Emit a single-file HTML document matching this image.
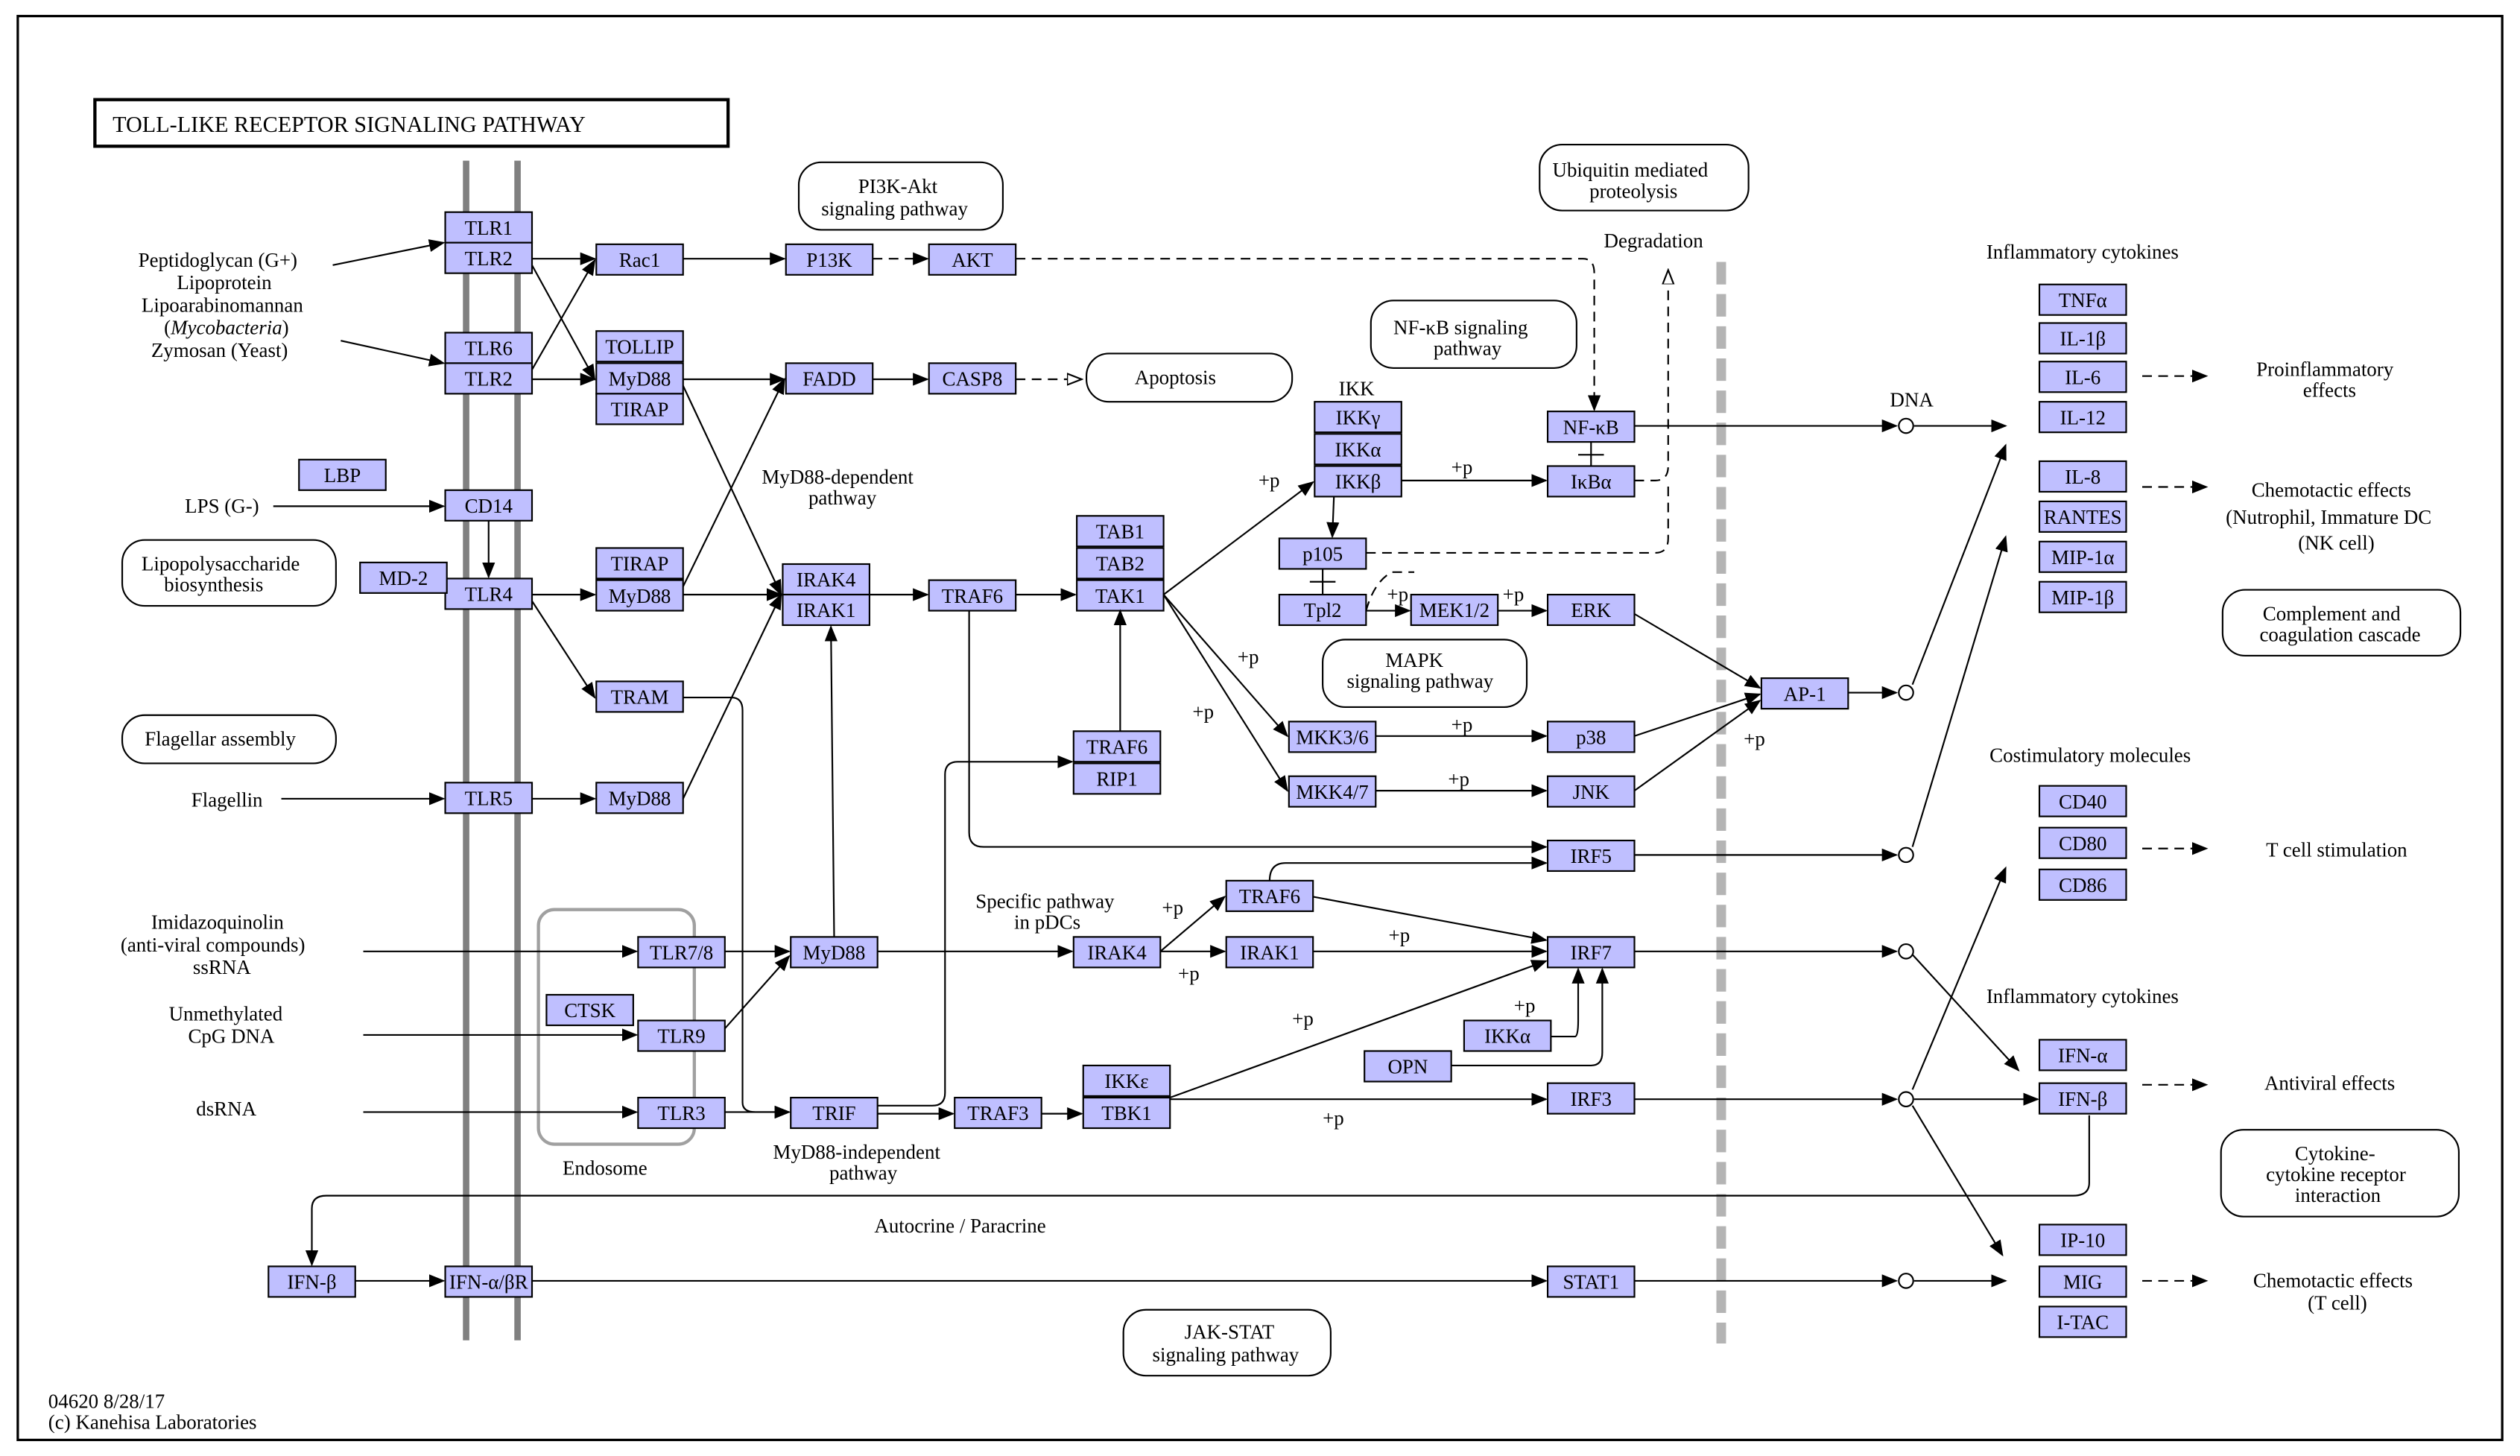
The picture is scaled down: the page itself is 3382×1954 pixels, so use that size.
<!DOCTYPE html>
<html><head><meta charset="utf-8"><style>
html,body{margin:0;padding:0;background:#fff}
svg{display:block}
text{font-family:"Liberation Serif",serif;font-size:12.5px;fill:#000}
.b rect{fill:#bfbfff;stroke:#000;stroke-width:1}
.l{fill:none;stroke:#000;stroke-width:1}
.d{fill:none;stroke:#000;stroke-width:1;stroke-dasharray:6,4}
.r{fill:#fff;stroke:#000;stroke-width:1}
</style></head><body>
<svg width="3382" height="1954" viewBox="0 0 1568 906" xmlns="http://www.w3.org/2000/svg">
<defs>
<marker id="a" markerWidth="10" markerHeight="10" refX="9" refY="5" orient="auto" markerUnits="userSpaceOnUse"><path d="M0,1 L10,5 L0,9z" fill="#000"/></marker>
<marker id="o" markerWidth="10" markerHeight="10" refX="9" refY="5" orient="auto" markerUnits="userSpaceOnUse"><path d="M0,1.5 L9,5 L0,8.5z" fill="#fff" stroke="#000"/></marker>
</defs>
<rect x="11" y="10" width="1546" height="886" fill="none" stroke="#000" stroke-width="1.5"/>
<rect x="59" y="62" width="394" height="29" fill="#fff" stroke="#000" stroke-width="2"/>
<text x="70" y="82" style="font-size:14px">TOLL-LIKE RECEPTOR SIGNALING PATHWAY</text>
<line x1="290" y1="100" x2="290" y2="834" stroke="#808080" stroke-width="4"/>
<line x1="322" y1="100" x2="322" y2="834" stroke="#808080" stroke-width="4"/>
<line x1="1071" y1="163" x2="1071" y2="836" stroke="#b4b4b4" stroke-width="6" stroke-dasharray="14,6"/>
<rect x="335" y="566" width="97" height="146" rx="10" fill="none" stroke="#a0a0a0" stroke-width="2"/>
<text x="350" y="731">Endosome</text>

<!-- rounded pathway boxes -->
<g>
<rect class="r" x="497" y="101" width="127" height="42" rx="14"/><text x="534" y="120">PI3K-Akt</text><text x="511" y="134">signaling pathway</text>
<rect class="r" x="676" y="220" width="128" height="30" rx="14"/><text x="706" y="239">Apoptosis</text>
<rect class="r" x="958" y="90" width="130" height="41" rx="14"/><text x="966" y="110">Ubiquitin mediated</text><text x="989" y="123">proteolysis</text>
<rect class="r" x="853" y="187" width="128" height="42" rx="14"/><text x="867" y="208">NF-κB signaling</text><text x="892" y="221">pathway</text>
<rect class="r" x="823" y="398" width="127" height="42" rx="14"/><text x="862" y="415">MAPK</text><text x="838" y="428">signaling pathway</text>
<rect class="r" x="76" y="336" width="133" height="41" rx="14"/><text x="88" y="355">Lipopolysaccharide</text><text x="102" y="368">biosynthesis</text>
<rect class="r" x="76" y="445" width="133" height="30" rx="14"/><text x="90" y="464">Flagellar assembly</text>
<rect class="r" x="1383" y="367" width="148" height="41" rx="14"/><text x="1408" y="386">Complement and</text><text x="1406" y="399">coagulation cascade</text>
<rect class="r" x="1382" y="703" width="148" height="54" rx="14"/><text x="1428" y="722">Cytokine-</text><text x="1410" y="735">cytokine receptor</text><text x="1428" y="748">interaction</text>
<rect class="r" x="699" y="815" width="129" height="41" rx="14"/><text x="737" y="833">JAK-STAT</text><text x="717" y="847">signaling pathway</text>
</g>

<!-- labels -->
<text x="86" y="166">Peptidoglycan (G+)</text>
<text x="110" y="180">Lipoprotein</text>
<text x="88" y="194">Lipoarabinomannan</text>
<text x="102" y="208">(<tspan font-style="italic">Mycobacteria</tspan>)</text>
<text x="94" y="222">Zymosan (Yeast)</text>
<text x="115" y="319">LPS (G-)</text>
<text x="119" y="502">Flagellin</text>
<text x="94" y="578">Imidazoquinolin</text>
<text x="75" y="592">(anti-viral compounds)</text>
<text x="120" y="606">ssRNA</text>
<text x="105" y="635">Unmethylated</text>
<text x="117" y="649">CpG DNA</text>
<text x="122" y="694">dsRNA</text>
<text x="474" y="301">MyD88-dependent</text><text x="503" y="314">pathway</text>
<text x="481" y="721">MyD88-independent</text><text x="516" y="734">pathway</text>
<text x="607" y="565">Specific pathway</text><text x="631" y="578">in pDCs</text>
<text x="544" y="767">Autocrine / Paracrine</text>
<text x="833" y="246">IKK</text>
<text x="998" y="154">Degradation</text>
<text x="1176" y="253">DNA</text>
<text x="1236" y="161">Inflammatory cytokines</text>
<text x="1238" y="474">Costimulatory molecules</text>
<text x="1236" y="624">Inflammatory cytokines</text>
<text x="1404" y="234">Proinflammatory</text><text x="1433" y="247">effects</text>
<text x="1401" y="309">Chemotactic effects</text><text x="1385" y="326">(Nutrophil, Immature DC</text><text x="1430" y="342">(NK cell)</text>
<text x="1410" y="533">T cell stimulation</text>
<text x="1409" y="678">Antiviral effects</text>
<text x="1402" y="801">Chemotactic effects</text><text x="1436" y="815">(T cell)</text>
<text x="30" y="876">04620 8/28/17</text><text x="30" y="889">(c) Kanehisa Laboratories</text>
<g>
<text x="783" y="303">+p</text><text x="903" y="295">+p</text><text x="770" y="413">+p</text><text x="742" y="447">+p</text>
<text x="903" y="455">+p</text><text x="901" y="489">+p</text><text x="1085" y="464">+p</text><text x="863" y="374">+p</text><text x="935" y="374">+p</text>
<text x="723" y="569">+p</text><text x="733" y="610">+p</text><text x="864" y="586">+p</text><text x="804" y="638">+p</text><text x="942" y="630">+p</text><text x="823" y="700">+p</text>
</g>

<!-- nodes -->
<g class="b">
<rect x="277" y="132" width="54" height="19"/><rect x="277" y="151" width="54" height="19"/>
<rect x="277" y="207" width="54" height="19"/><rect x="277" y="226" width="54" height="19"/>
<rect x="277" y="305" width="54" height="19"/><rect x="277" y="360" width="54" height="19"/>
<rect x="277" y="487" width="54" height="19"/>
<rect x="186" y="286" width="54" height="19"/><rect x="224" y="350" width="54" height="19"/>
<rect x="371" y="152" width="54" height="19"/>
<rect x="371" y="206" width="54" height="19"/><rect x="371" y="226" width="54" height="19"/><rect x="371" y="245" width="54" height="19"/>
<rect x="371" y="341" width="54" height="19"/><rect x="371" y="361" width="54" height="19"/>
<rect x="371" y="424" width="54" height="19"/><rect x="371" y="487" width="54" height="19"/>
<rect x="489" y="152" width="54" height="19"/><rect x="578" y="152" width="54" height="19"/>
<rect x="489" y="226" width="54" height="19"/><rect x="578" y="226" width="54" height="19"/>
<rect x="487" y="351" width="54" height="19"/><rect x="487" y="370" width="54" height="19"/>
<rect x="578" y="361" width="54" height="19"/>
<rect x="670" y="321" width="54" height="19"/><rect x="670" y="341" width="54" height="19"/><rect x="670" y="361" width="54" height="19"/>
<rect x="668" y="455" width="54" height="19"/><rect x="668" y="475" width="54" height="19"/>
<rect x="818" y="250" width="54" height="19"/><rect x="818" y="270" width="54" height="19"/><rect x="818" y="290" width="54" height="19"/>
<rect x="963" y="256" width="54" height="19"/><rect x="963" y="290" width="54" height="19"/>
<rect x="796" y="335" width="54" height="19"/><rect x="796" y="370" width="54" height="19"/>
<rect x="878" y="370" width="54" height="19"/><rect x="963" y="370" width="54" height="19"/>
<rect x="802" y="449" width="54" height="19"/><rect x="963" y="449" width="54" height="19"/>
<rect x="802" y="483" width="54" height="19"/><rect x="963" y="483" width="54" height="19"/>
<rect x="1096" y="422" width="54" height="19"/>
<rect x="963" y="523" width="54" height="19"/>
<rect x="763" y="548" width="54" height="19"/>
<rect x="963" y="583" width="54" height="19"/>
<rect x="668" y="583" width="54" height="19"/><rect x="763" y="583" width="54" height="19"/>
<rect x="911" y="635" width="54" height="19"/><rect x="849" y="654" width="54" height="19"/>
<rect x="674" y="663" width="54" height="19"/><rect x="674" y="683" width="54" height="19"/>
<rect x="963" y="674" width="54" height="19"/>
<rect x="594" y="683" width="54" height="19"/><rect x="492" y="683" width="54" height="19"/>
<rect x="492" y="583" width="54" height="19"/>
<rect x="397" y="583" width="54" height="19"/><rect x="397" y="635" width="54" height="19"/>
<rect x="340" y="619" width="54" height="19"/><rect x="397" y="683" width="54" height="19"/>
<rect x="167" y="788" width="54" height="19"/><rect x="277" y="788" width="54" height="19"/>
<rect x="963" y="788" width="54" height="19"/>
<rect x="1269" y="177" width="54" height="19"/><rect x="1269" y="201" width="54" height="19"/>
<rect x="1269" y="225" width="54" height="19"/><rect x="1269" y="250" width="54" height="19"/>
<rect x="1269" y="287" width="54" height="19"/><rect x="1269" y="312" width="54" height="19"/>
<rect x="1269" y="337" width="54" height="19"/><rect x="1269" y="362" width="54" height="19"/>
<rect x="1269" y="489" width="54" height="19"/><rect x="1269" y="515" width="54" height="19"/><rect x="1269" y="541" width="54" height="19"/>
<rect x="1269" y="647" width="54" height="19"/><rect x="1269" y="674" width="54" height="19"/>
<rect x="1269" y="762" width="54" height="19"/><rect x="1269" y="788" width="54" height="19"/><rect x="1269" y="813" width="54" height="19"/>
</g>
<g text-anchor="middle">
<text x="304" y="146">TLR1</text><text x="304" y="165">TLR2</text><text x="304" y="221">TLR6</text><text x="304" y="240">TLR2</text>
<text x="304" y="319">CD14</text><text x="304" y="374">TLR4</text><text x="304" y="501">TLR5</text>
<text x="213" y="300">LBP</text><text x="251" y="364">MD-2</text>
<text x="398" y="166">Rac1</text><text x="398" y="220">TOLLIP</text><text x="398" y="240">MyD88</text><text x="398" y="259">TIRAP</text>
<text x="398" y="355">TIRAP</text><text x="398" y="375">MyD88</text><text x="398" y="438">TRAM</text><text x="398" y="501">MyD88</text>
<text x="516" y="166">P13K</text><text x="605" y="166">AKT</text><text x="516" y="240">FADD</text><text x="605" y="240">CASP8</text>
<text x="514" y="365">IRAK4</text><text x="514" y="384">IRAK1</text><text x="605" y="375">TRAF6</text>
<text x="697" y="335">TAB1</text><text x="697" y="355">TAB2</text><text x="697" y="375">TAK1</text>
<text x="695" y="469">TRAF6</text><text x="695" y="489">RIP1</text>
<text x="845" y="264">IKKγ</text><text x="845" y="284">IKKα</text><text x="845" y="304">IKKβ</text>
<text x="990" y="270">NF-κB</text><text x="990" y="304">IκBα</text>
<text x="823" y="349">p105</text><text x="823" y="384">Tpl2</text><text x="905" y="384">MEK1/2</text><text x="990" y="384">ERK</text>
<text x="829" y="463">MKK3/6</text><text x="990" y="463">p38</text><text x="829" y="497">MKK4/7</text><text x="990" y="497">JNK</text>
<text x="1123" y="436">AP-1</text><text x="990" y="537">IRF5</text><text x="790" y="562">TRAF6</text><text x="990" y="597">IRF7</text>
<text x="695" y="597">IRAK4</text><text x="790" y="597">IRAK1</text><text x="938" y="649">IKKα</text><text x="876" y="668">OPN</text>
<text x="701" y="677">IKKε</text><text x="701" y="697">TBK1</text><text x="990" y="688">IRF3</text>
<text x="621" y="697">TRAF3</text><text x="519" y="697">TRIF</text><text x="519" y="597">MyD88</text>
<text x="424" y="597">TLR7/8</text><text x="424" y="649">TLR9</text><text x="367" y="633">CTSK</text><text x="424" y="697">TLR3</text>
<text x="194" y="802">IFN-β</text><text x="304" y="802">IFN-α/βR</text><text x="990" y="802">STAT1</text>
<text x="1296" y="191">TNFα</text><text x="1296" y="215">IL-1β</text><text x="1296" y="239">IL-6</text><text x="1296" y="264">IL-12</text>
<text x="1296" y="301">IL-8</text><text x="1296" y="326">RANTES</text><text x="1296" y="351">MIP-1α</text><text x="1296" y="376">MIP-1β</text>
<text x="1296" y="503">CD40</text><text x="1296" y="529">CD80</text><text x="1296" y="555">CD86</text>
<text x="1296" y="661">IFN-α</text><text x="1296" y="688">IFN-β</text>
<text x="1296" y="776">IP-10</text><text x="1296" y="802">MIG</text><text x="1296" y="827">I-TAC</text>
</g>

<!-- edges -->
<g class="l" marker-end="url(#a)">
<path d="M207,165 L276,151"/><path d="M212,212 L276,226"/>
<path d="M170,315 L276,315"/><path d="M304,324 L304,359"/><path d="M175,497 L276,497"/>
<path d="M331,161 L370,161"/><path d="M331,236 L370,236"/><path d="M331,165 L370,236"/><path d="M331,230 L370,162"/>
<path d="M331,370 L370,370"/><path d="M331,374 L370,434"/><path d="M331,497 L370,497"/>
<path d="M425,161 L488,161"/><path d="M425,236 L488,236"/>
<path d="M425,240 L486,370"/><path d="M425,365 L488,236"/><path d="M425,370 L486,370"/>
<path d="M425,497 L486,370"/><path d="M543,236 L577,236"/>
<path d="M541,370 L577,370"/><path d="M632,370 L669,370"/>
<path d="M724,370 L817,300"/><path d="M724,370 L801,458"/><path d="M724,370 L801,492"/>
<path d="M697,455 L697,380"/><path d="M830,309 L829,334"/>
<path d="M872,299 L962,299"/><path d="M850,380 L877,380"/><path d="M932,380 L962,380"/>
<path d="M856,458 L962,458"/><path d="M856,492 L962,492"/>
<path d="M1017,382 L1095,428"/><path d="M1017,458 L1095,432"/><path d="M1017,492 L1095,436"/>
<path d="M1017,265 L1180,265"/><path d="M1150,431 L1180,431"/>
<path d="M1017,592 L1180,592"/><path d="M1017,684 L1180,684"/><path d="M1017,797 L1180,797"/>
<path d="M1191,265 L1248,265"/><path d="M1190,426 L1248,277"/><path d="M1190,527 L1248,334"/>
<path d="M1190,678 L1248,540"/><path d="M1190,594 L1256,666"/><path d="M1191,684 L1268,684"/><path d="M1190,688 L1246,781"/><path d="M1191,797 L1248,797"/>
<path d="M603,380 L603,518 Q603,527 612,527 L962,527"/><path d="M790,548 Q790,537 800,537 L962,537"/>
<path d="M226,592 L396,592"/><path d="M226,644 L396,644"/><path d="M226,692 L396,692"/>
<path d="M451,592 L491,592"/><path d="M451,640 L491,595"/><path d="M451,692 L491,692"/>
<path d="M519,583 L517,390"/><path d="M546,592 L667,592"/>
<path d="M722,592 L762,558"/><path d="M722,592 L762,592"/><path d="M817,558 L962,585"/><path d="M817,592 L962,592"/>
<path d="M546,688 L580,688 Q588,688 588,680 L588,482 Q588,474 596,474 L667,474"/>
<path d="M546,693 L593,693"/><path d="M648,693 L673,693"/>
<path d="M728,683 L962,598"/><path d="M728,684 L962,684"/>
<path d="M965,645 L980,645 Q982,645 982,635 L982,603"/><path d="M903,663 L990,663 Q997,663 997,655 L997,603"/>
<path d="M425,434 L455,434 Q462,434 462,442 L462,686 Q462,692 470,692 L491,692"/>
<path d="M1300,694 L1300,736 Q1300,744 1290,744 L203,744 Q194,744 194,752 L194,787"/>
<path d="M221,797 L276,797"/><path d="M331,797 L962,797"/>
</g>
<g class="d" marker-end="url(#a)">
<path d="M632,161 L985,161 Q992,161 992,170 L992,255"/>
<path d="M1333,234 L1373,234"/><path d="M1333,303 L1373,303"/><path d="M1333,528 L1373,528"/><path d="M1333,675 L1373,675"/><path d="M1333,797 L1373,797"/>
</g>
<g class="d"><path d="M543,161 L577,161" marker-end="url(#a)"/>
<path d="M632,236 L673,236" marker-end="url(#o)"/>
<path d="M1017,299 L1030,299 Q1038,299 1038,290 L1038,168" marker-end="url(#o)"/>
<path d="M850,344 L1030,344 Q1038,344 1038,335 L1038,300"/>
<path d="M850,380 Q855,362 866,356 L880,356"/>
</g>
<g class="l">
<path d="M990,275 L990,290"/><path d="M982,283 L998,283"/>
<path d="M823,354 L823,370"/><path d="M815,362 L831,362"/>
</g>
<g fill="#fff" stroke="#000">
<circle cx="1186" cy="265" r="4.5"/><circle cx="1186" cy="431" r="4.5"/><circle cx="1186" cy="532" r="4.5"/>
<circle cx="1186" cy="592" r="4.5"/><circle cx="1186" cy="684" r="4.5"/><circle cx="1186" cy="797" r="4.5"/>
</g>
<path class="l" d="M1017,532 L1180,532" marker-end="url(#a)"/>
</svg>
</body></html>
